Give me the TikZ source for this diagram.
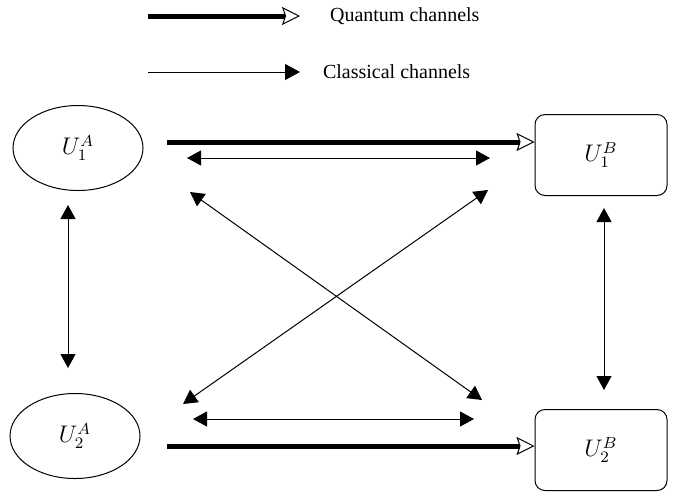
\documentclass[tikz,border=0pt]{standalone}
\usepackage{fontspec}
\setmainfont{Liberation Serif}
\usetikzlibrary{arrows.meta, positioning, shapes.geometric}

\tikzset{
  quantum/.style={line width=2.5pt,
    -{Stealth[open, length=9pt, width=9pt, inset=1.5pt, line width=0.5pt]}},
  classical/.style={line width=0.5pt, -{Triangle[length=7.5pt, width=8pt]}},
  twoway/.style={line width=0.5pt,
    {Triangle[length=7pt, width=7.5pt]}-{Triangle[length=7pt, width=7.5pt]}},
  usernode/.style={draw, ellipse, line width=0.5pt, minimum width=65pt,
    minimum height=42.5pt, font=\large},
  userbox/.style={draw, rounded corners=5pt, line width=0.5pt,
    minimum width=66pt, minimum height=40.5pt, font=\large},
  legendtext/.style={anchor=west, font=\fontsize{10}{12}\selectfont}
}

\begin{document}
\begin{tikzpicture}[x=0.5pt, y=-0.5pt]
  \useasboundingbox (0,0) rectangle (683,494);

  % legend
  \coordinate (lq0) at (148,16);
  \coordinate (lq1) at (300,16);
  \coordinate (lc0) at (148,72);
  \coordinate (lc1) at (300,72);
  \node[legendtext] (lq) at (323,16) {Quantum channels};
  \node[legendtext] (lc) at (316,72) {Classical channels};
  \draw[quantum] (lq0) -- (lq1);
  \draw[classical] (lc0) -- (lc1);

  % users
  \node[usernode] (a1) at (78,148) {$U_1^A$};
  \node[usernode] (a2) at (75,436) {$U_2^A$};
  \node[userbox] (b1) at (601,155) {$U_1^B$};
  \node[userbox] (b2) at (601,450) {$U_2^B$};

  % quantum channels
  \coordinate (q1) at (167,142);
  \coordinate (q2) at (167,446);
  \draw[quantum] (q1) -- (q1 -| b1.west);
  \draw[quantum] (q2) -- (q2 -| b2.west);

  % classical channels
  \foreach \s/\e in {{187,158}/{490,158}, {193,419}/{474,419},
                     {68,205}/{68,368}, {604,208}/{604,390},
                     {190,192}/{482,400}, {488,190}/{183,404}}{
    \draw[twoway] (\s) -- (\e);
  }
\end{tikzpicture}
\end{document}
